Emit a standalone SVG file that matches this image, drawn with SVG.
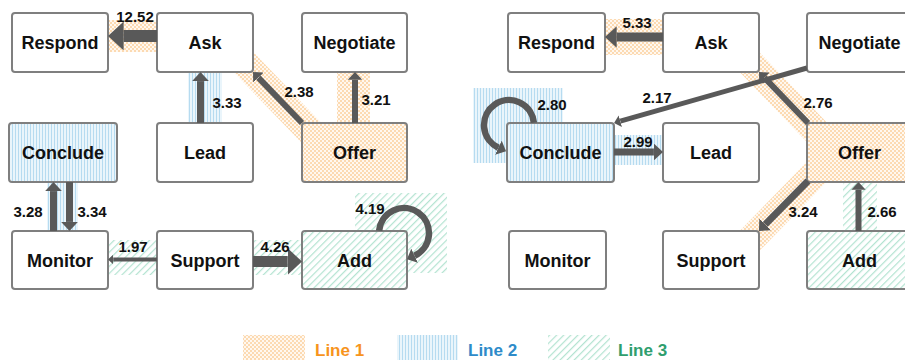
<svg xmlns="http://www.w3.org/2000/svg" width="905" height="360" viewBox="0 0 905 360">
<style>
.node rect{fill:#fff;stroke:#7f7f7f;stroke-width:2}
.node text{font-family:"Liberation Sans",Arial,sans-serif;font-weight:bold;font-size:18px;fill:#111;text-anchor:middle}
.e{stroke:#595959;fill:none;marker-end:url(#ah)}
.lbl{font-family:"Liberation Sans",Arial,sans-serif;font-weight:bold;font-size:15px;fill:#111;text-anchor:middle}
.leg{font-family:"Liberation Sans",Arial,sans-serif;font-weight:bold;font-size:17px}
</style>
<defs>
<marker id="ah" viewBox="0 0 13 24" refX="0" refY="12" markerWidth="1.3" markerHeight="2.4" orient="auto" markerUnits="strokeWidth">
<path d="M0,0 L13,12 L0,24 z" fill="#595959"/>
</marker>
<pattern id="p1" width="4" height="4" patternUnits="userSpaceOnUse">
<rect width="4" height="4" fill="#fff8f0"/>
<rect width="2" height="2" fill="#fcdab2"/>
<rect x="2" y="2" width="2" height="2" fill="#fcdab2"/>
</pattern>
<pattern id="p2" width="3" height="3" patternUnits="userSpaceOnUse">
<rect width="3" height="3" fill="#eaf5fb"/>
<rect width="1" height="3" fill="#b6dbf0"/>
</pattern>
<pattern id="p3" width="5" height="5" patternUnits="userSpaceOnUse" patternTransform="rotate(45)">
<rect width="5" height="5" fill="#fff"/>
<rect width="1.2" height="5" fill="#b3e3d1"/>
</pattern>
</defs>
<rect width="905" height="360" fill="#fff"/>
<g id="highlights">
<rect x="108" y="20" width="49" height="32" fill="url(#p1)"/>
<rect x="188" y="72" width="34" height="51" fill="url(#p2)"/>
<polygon points="253.4,52.2 321.8,123.4 301.6,142.8 233.2,71.6" fill="url(#p1)"/>
<rect x="337" y="72" width="33" height="51" fill="url(#p1)"/>
<rect x="47" y="182" width="31" height="49" fill="url(#p2)"/>
<rect x="108" y="240" width="49" height="35" fill="url(#p3)"/>
<rect x="253" y="240" width="49" height="35" fill="url(#p3)"/>
<rect x="355" y="193" width="92" height="80" fill="url(#p3)"/>
<rect x="605" y="19" width="58" height="36" fill="url(#p1)"/>
<polygon points="759.4,52.2 827.8,123.4 807.6,142.8 739.2,71.6" fill="url(#p1)"/>
<rect x="473" y="88" width="90" height="75" fill="url(#p2)"/>
<rect x="614" y="135" width="49" height="30" fill="url(#p2)"/>
<polygon points="807.6,161.2 827.8,180.6 759.4,250.8 739.2,231.4" fill="url(#p1)"/>
<rect x="843" y="182" width="34" height="49" fill="url(#p3)"/>
</g>
<g id="L-Respond" class="node"><rect x="12" y="13" width="96" height="59" rx="3"/><text x="60" y="49">Respond</text></g>
<g id="L-Ask" class="node"><rect x="157" y="13" width="96" height="59" rx="3"/><text x="205" y="49">Ask</text></g>
<g id="L-Negotiate" class="node"><rect x="302" y="13" width="105" height="59" rx="3"/><text x="354.5" y="49">Negotiate</text></g>
<g id="L-Conclude" class="node"><rect x="9" y="123" width="108" height="59" rx="3" style="fill:url(#p2)"/><text x="63" y="159">Conclude</text></g>
<g id="L-Lead" class="node"><rect x="157" y="123" width="96" height="59" rx="3"/><text x="205" y="159">Lead</text></g>
<g id="L-Offer" class="node"><rect x="302" y="123" width="105" height="59" rx="3" style="fill:url(#p1)"/><text x="354.5" y="159">Offer</text></g>
<g id="L-Monitor" class="node"><rect x="12" y="231" width="96" height="58" rx="3"/><text x="60" y="266.5">Monitor</text></g>
<g id="L-Support" class="node"><rect x="157" y="231" width="96" height="58" rx="3"/><text x="205" y="266.5">Support</text></g>
<g id="L-Add" class="node"><rect x="302" y="231" width="105" height="58" rx="3" style="fill:url(#p3)"/><text x="354.5" y="266.5">Add</text></g>
<g id="R-Respond" class="node"><rect x="508" y="13" width="97" height="59" rx="3"/><text x="556.5" y="49">Respond</text></g>
<g id="R-Ask" class="node"><rect x="663" y="13" width="96" height="59" rx="3"/><text x="711" y="49">Ask</text></g>
<g id="R-Negotiate" class="node"><rect x="807" y="13" width="105" height="59" rx="3"/><text x="859.5" y="49">Negotiate</text></g>
<g id="R-Conclude" class="node"><rect x="507" y="123" width="107" height="59" rx="3" style="fill:url(#p2)"/><text x="560.5" y="159">Conclude</text></g>
<g id="R-Lead" class="node"><rect x="663" y="123" width="96" height="59" rx="3"/><text x="711" y="159">Lead</text></g>
<g id="R-Offer" class="node"><rect x="807" y="123" width="105" height="59" rx="3" style="fill:url(#p1)"/><text x="859.5" y="159">Offer</text></g>
<g id="R-Monitor" class="node"><rect x="509" y="231" width="97" height="58" rx="3"/><text x="557.5" y="266.5">Monitor</text></g>
<g id="R-Support" class="node"><rect x="663" y="231" width="96" height="58" rx="3"/><text x="711" y="266.5">Support</text></g>
<g id="R-Add" class="node"><rect x="807" y="231" width="105" height="58" rx="3" style="fill:url(#p3)"/><text x="859.5" y="266.5">Add</text></g>
<g id="connectors">
<line class="e" x1="157" y1="36" x2="123.6" y2="36" stroke-width="12"/>
<line class="e" x1="200.5" y1="123" x2="200.5" y2="81.1" stroke-width="7"/>
<line class="e" x1="302" y1="123" x2="258.4" y2="77.6" stroke-width="6"/>
<line class="e" x1="355" y1="123" x2="355" y2="79.8" stroke-width="6"/>
<line class="e" x1="53.5" y1="231" x2="53.5" y2="191.1" stroke-width="7"/>
<line class="e" x1="69.5" y1="182" x2="69.5" y2="221.9" stroke-width="7"/>
<line class="e" x1="157" y1="259.5" x2="113.2" y2="259.5" stroke-width="4"/>
<line class="e" x1="253" y1="261.5" x2="287.7" y2="261.5" stroke-width="11"/>
<path class="e" d="M379.1,230.8 A25,25 0 1 1 414.6,255.7" stroke-width="6.5"/>
<line class="e" x1="663" y1="37" x2="616.7" y2="37" stroke-width="9"/>
<line class="e" x1="807" y1="68" x2="620.3" y2="121.2" stroke-width="5"/>
<line class="e" x1="808" y1="123" x2="764.4" y2="77.6" stroke-width="6"/>
<path class="e" d="M533.9,122.8 A25,25 0 1 0 498.4,147.7" stroke-width="6.5"/>
<line class="e" x1="614" y1="152" x2="653.9" y2="152" stroke-width="7"/>
<line class="e" x1="808" y1="181" x2="765.3" y2="224.4" stroke-width="7"/>
<line class="e" x1="858.5" y1="231" x2="858.5" y2="189.8" stroke-width="6"/>
<text class="lbl" x="135" y="22">12.52</text>
<text class="lbl" x="227" y="108">3.33</text>
<text class="lbl" x="299" y="97">2.38</text>
<text class="lbl" x="376" y="105">3.21</text>
<text class="lbl" x="28" y="217">3.28</text>
<text class="lbl" x="92" y="217">3.34</text>
<text class="lbl" x="133" y="252">1.97</text>
<text class="lbl" x="275" y="252">4.26</text>
<text class="lbl" x="370" y="214">4.19</text>
<text class="lbl" x="637" y="28">5.33</text>
<text class="lbl" x="657" y="103">2.17</text>
<text class="lbl" x="552" y="110">2.80</text>
<text class="lbl" x="818" y="108">2.76</text>
<text class="lbl" x="638" y="147">2.99</text>
<text class="lbl" x="803" y="217">3.24</text>
<text class="lbl" x="882" y="217">2.66</text>
</g>
<g id="legend">
<rect x="243" y="335" width="62" height="25" fill="url(#p1)"/>
<text class="leg" x="315" y="356" fill="#f7941d">Line 1</text>
<rect x="397" y="335" width="61" height="25" fill="url(#p2)"/>
<text class="leg" x="468" y="356" fill="#2e8bc9">Line 2</text>
<rect x="548" y="335" width="62" height="25" fill="url(#p3)"/>
<text class="leg" x="618" y="356" fill="#2f9e6e">Line 3</text>
</g>
</svg>
